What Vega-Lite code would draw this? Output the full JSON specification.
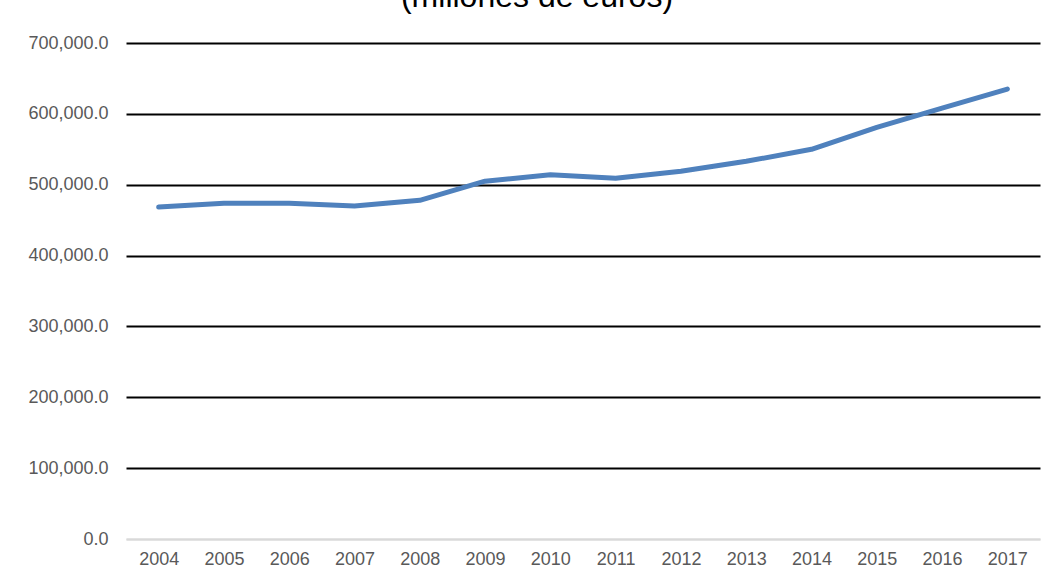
{
  "$schema": "https://vega.github.io/schema/vega-lite/v6.json",
  "width": 914,
  "height": 496,
  "autosize": {"type": "none"},
  "padding": {"left": 126, "top": 43, "right": 12, "bottom": 44},
  "background": "white",
  "title": {
    "text": "(millones de euros)",
    "frame": "group",
    "anchor": "middle",
    "baseline": "alphabetic",
    "offset": -5,
    "dx": -46,
    "font": "Liberation Sans",
    "fontSize": 32,
    "fontWeight": "normal",
    "color": "#000000"
  },
  "config": {
    "view": {"stroke": null},
    "axis": {"labelFont": "Liberation Sans", "labelColor": "#595959", "labelFontSize": 18}
  },
  "data": {
    "values": [
      {"year": "2004", "value": 468500},
      {"year": "2005", "value": 474000},
      {"year": "2006", "value": 474000},
      {"year": "2007", "value": 470000},
      {"year": "2008", "value": 478000},
      {"year": "2009", "value": 505000},
      {"year": "2010", "value": 514000},
      {"year": "2011", "value": 509000},
      {"year": "2012", "value": 519000},
      {"year": "2013", "value": 533000},
      {"year": "2014", "value": 550000},
      {"year": "2015", "value": 581000},
      {"year": "2016", "value": 608000},
      {"year": "2017", "value": 635000}
    ]
  },
  "mark": {"type": "line", "color": "#4F81BD", "strokeWidth": 5, "strokeCap": "round", "strokeJoin": "round"},
  "encoding": {
    "x": {
      "field": "year",
      "type": "ordinal",
      "scale": {"type": "point", "padding": 0.5},
      "axis": {
        "title": null,
        "labelAngle": 0,
        "ticks": false,
        "domain": true,
        "domainColor": "#d9d9d9",
        "domainWidth": 2,
        "labelPadding": 11
      }
    },
    "y": {
      "field": "value",
      "type": "quantitative",
      "scale": {"domain": [0, 700000], "nice": false},
      "axis": {
        "title": null,
        "values": [0, 100000, 200000, 300000, 400000, 500000, 600000, 700000],
        "format": ",.1f",
        "ticks": false,
        "domain": false,
        "labelPadding": 18,
        "grid": true,
        "gridColor": {"condition": {"test": "datum.value === 0", "value": "#d9d9d9"}, "value": "#000000"},
        "gridWidth": 2,
        "gridOpacity": 1
      }
    }
  }
}
